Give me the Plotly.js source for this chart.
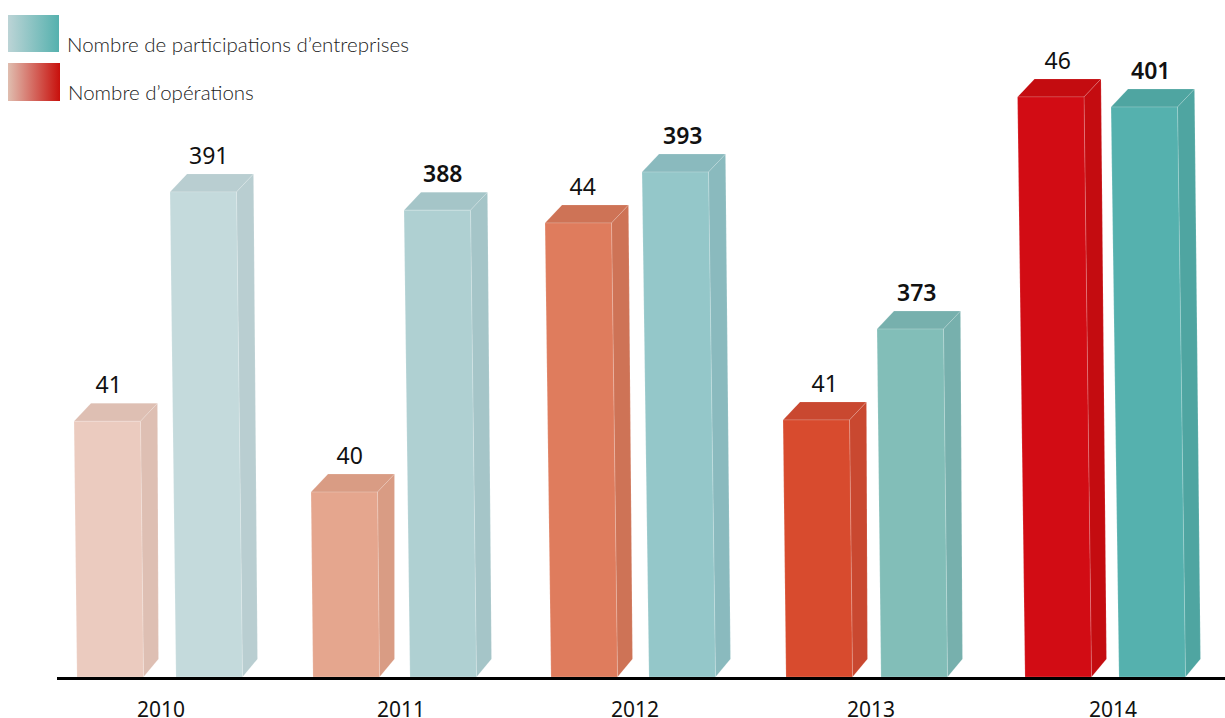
<!DOCTYPE html>
<html><head><meta charset="utf-8">
<script src="https://cdn.plot.ly/plotly-3.0.1.min.js"></script>
<style>html,body{margin:0;padding:0;background:#fff}#c{width:1225px;height:718px}</style>
</head><body><div id="c"></div>
<script>
// ---- data ----
const years = ['2010','2011','2012','2013','2014'];
const operationLabels = [41,40,44,41,46];
const participationLabels = [391,388,393,373,401];
// bar heights as actually drawn in the picture, read against the same scales
const operations = [40.98,39.89,44.03,41.0,45.97];
const participations = [390.3,388,392.8,373,401];
const seriesNames = ['Nombre de participations d’entreprises','Nombre d’opérations'];
const participationWeights = [400,600,600,600,600];

// ---- styles ----
const opFront = ['#EBCBBF','#E5A68E','#DF7C5D','#D84B2E','#D20C14'];
const opSide  = ['#DEBFB3','#D99C84','#CE7356','#C94830','#C40C10'];
const paFront = ['#C4DADC','#AFD0D2','#94C7C9','#82BEB8','#55B1AE'];
const paSide  = ['#B9CED1','#A5C5C8','#8ABABE','#77B0AD','#4FA5A1'];

// ---- layout geometry (x axis units equal page pixels) ----
const W=1225,H=718,baseY=677,axisLeft=57;
const barW=66.5, depthX=17, depthY=18, labelGap=4;
const yearCentres=[161,401,635,871,1113];
const opTopX=[74,311,545,783,1017.5], opBotX=[77,313,551,786,1025];
const paTopX=[170,404,642,877,1111], paBotX=[176,410,649,881,1119];
const opLabelNudge=[-1.5,3.5,-1.5,5.5,-0.5], paLabelNudge=[-0.5,-0.5,0.5,2.5,-1.5];
const opScale=65, opBase=37.045;     // px per unit, axis start
const paScale=7.93, paBase=329.126;

const traces=[];
function bar(v,xT,xB,front,side,axis,scale,base){
  const d=depthY/scale, w=barW;
  const common={type:'scatter',mode:'lines',fill:'toself',yaxis:axis,xaxis:'x',hoverinfo:'skip',showlegend:false};
  traces.push({...common,x:[xT,xT+w,xT+w+depthX,xT+depthX,xT],y:[v,v,v+d,v+d,v],fillcolor:side,line:{color:'rgba(255,255,255,0.25)',width:0.6}});
  traces.push({...common,x:[xT+w,xT+w+depthX,xB+w+depthX-2,xB+w,xT+w],y:[v,v+d,base+d,base,v],fillcolor:side,line:{color:'rgba(255,255,255,0.25)',width:0.6}});
  traces.push({...common,x:[xT,xT+w,xB+w,xB,xT],y:[v,v,base,base,v],fillcolor:front,line:{color:'rgba(255,255,255,0.3)',width:0.6}});
}
years.forEach((y,i)=>{
  bar(operations[i],opTopX[i],opBotX[i],opFront[i],opSide[i],'y',opScale,opBase);
  bar(participations[i],paTopX[i],paBotX[i],paFront[i],paSide[i],'y2',paScale,paBase);
});
const labelFamily='"Noto Sans",sans-serif';
traces.push({type:'scatter',mode:'text',xaxis:'x',yaxis:'y',hoverinfo:'skip',showlegend:false,
  x:opBotX.map((x,i)=>x+barW/2+opLabelNudge[i]),y:operations.map(v=>v+(depthY+labelGap)/opScale),text:operationLabels.map(String),
  textposition:'top center',textfont:{family:labelFamily,size:23,color:'#111'}});
traces.push({type:'scatter',mode:'text',xaxis:'x',yaxis:'y2',hoverinfo:'skip',showlegend:false,
  x:paBotX.map((x,i)=>x+barW/2+paLabelNudge[i]),y:participations.map(v=>v+(depthY+labelGap)/paScale),
  text:participationLabels.map(String),
  textposition:'top center',textfont:{family:labelFamily,size:23,color:'#111',weight:participationWeights}});
function swatch(x0,x1,y0,y1,c0,c1){
  traces.push({type:'scatter',mode:'lines',xaxis:'x3',yaxis:'y3',hoverinfo:'skip',showlegend:false,
    x:[x0,x1,x1,x0,x0],y:[y0,y0,y1,y1,y0],fill:'toself',line:{width:0,color:'rgba(0,0,0,0)'},
    fillgradient:{type:'horizontal',colorscale:[[0,c0],[1,c1]]}});
}
swatch(8,59,15,52,'#BCD4D6','#55B1AE');
swatch(8,60,63,101,'#E0BEB0','#C8100C');

const legendFont={family:'Lato,"Noto Sans",sans-serif',size:20.5,weight:300,color:'#222'};
const layout={
  width:W,height:H,margin:{l:0,r:0,t:0,b:0},paper_bgcolor:'#fff',plot_bgcolor:'rgba(0,0,0,0)',showlegend:false,
  xaxis:{domain:[axisLeft/W,1],range:[axisLeft,W],tickmode:'array',tickvals:yearCentres,ticktext:years,
    showgrid:false,zeroline:false,showline:true,linecolor:'#000',linewidth:2.5,ticks:'',layer:'above traces',
    ticklabelstandoff:12,tickfont:{family:'"Noto Sans",sans-serif',size:21,color:'#111'}},
  yaxis:{domain:[(H-baseY)/H,1],range:[opBase,opBase+baseY/opScale],visible:false},
  yaxis2:{domain:[(H-baseY)/H,1],range:[paBase,paBase+baseY/paScale],overlaying:'y',visible:false},
  xaxis3:{domain:[0,1],range:[0,W],visible:false,anchor:'y3'},
  yaxis3:{domain:[0,1],range:[H,0],visible:false,anchor:'x3'},
  annotations:[
    {xref:'x3',yref:'y3',x:65,y:44,xanchor:'left',yanchor:'middle',showarrow:false,text:seriesNames[0],font:legendFont},
    {xref:'x3',yref:'y3',x:66,y:92,xanchor:'left',yanchor:'middle',showarrow:false,text:seriesNames[1],font:legendFont}
  ]
};
Plotly.newPlot('c',traces,layout,{displayModeBar:false,staticPlot:true});
</script></body></html>
